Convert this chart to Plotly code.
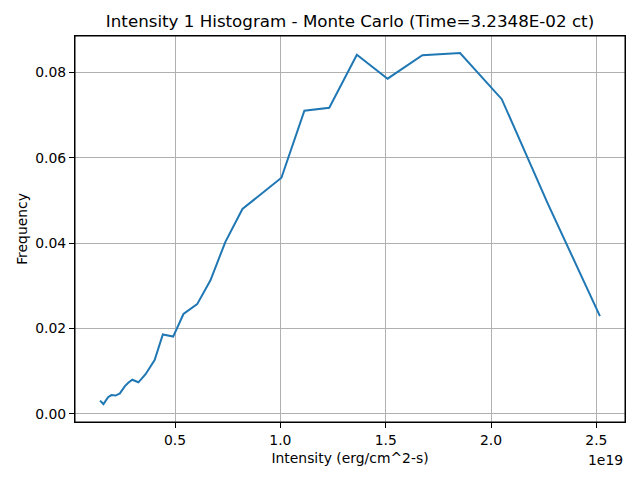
import plotly.graph_objects as go

# intensity bin centres (erg/cm^2-s) and frequencies
intensity = [1.44e18, 1.60e18, 1.82e18, 1.98e18, 2.18e18, 2.38e18, 2.62e18,
             2.78e18, 2.97e18, 3.26e18, 3.60e18, 4.03e18, 4.42e18, 4.91e18,
             5.40e18, 6.05e18, 6.68e18, 7.39e18, 8.20e18, 1.005e19, 1.114e19,
             1.232e19, 1.363e19, 1.509e19, 1.674e19, 1.853e19, 2.051e19,
             2.27e19, 2.517e19]
frequency = [0.0031, 0.0023, 0.0039, 0.0044, 0.0043, 0.0048, 0.0065,
             0.0073, 0.0080, 0.0074, 0.0093, 0.0126, 0.0186, 0.0181,
             0.0234, 0.0257, 0.0313, 0.0403, 0.0480, 0.0553, 0.0710,
             0.0717, 0.0841, 0.0785, 0.0840, 0.0845, 0.0737,
             0.0492, 0.0229]

x_ticks = [0.5e19, 1.0e19, 1.5e19, 2.0e19, 2.5e19]
x_tick_labels = ["0.5", "1.0", "1.5", "2.0", "2.5"]
y_ticks = [0.0, 0.02, 0.04, 0.06, 0.08]

font = "DejaVu Sans"

fig = go.Figure()
fig.add_trace(go.Scatter(x=intensity, y=frequency, mode="lines",
                         line=dict(color="#1f77b4", width=2)))

fig.update_layout(
    width=640, height=480,
    margin=dict(l=75, r=15, t=36, b=58),
    paper_bgcolor="white", plot_bgcolor="white",
    showlegend=False,
    font=dict(family=font, size=13.9, color="black"),
    title=dict(text="Intensity 1 Histogram - Monte Carlo (Time=3.2348E-02 ct)",
               xref="paper", x=0.5, xanchor="center",
               yref="container", y=0.955, yanchor="middle",
               font=dict(family=font, size=16.7, color="black")),
    annotations=[dict(text="1e19", xref="paper", yref="paper", x=1.0, y=-0.072,
                      xanchor="right", yanchor="top", showarrow=False,
                      font=dict(family=font, size=13.9, color="black"))],
    # frame round the plot area, like the matplotlib spines
    shapes=[dict(type="rect", xref="paper", yref="paper", x0=0, x1=1, y0=0, y1=1,
                 line=dict(color="black", width=1), layer="above")],
)

fig.update_xaxes(
    range=[0.025e19, 2.636e19],
    tickvals=x_ticks, ticktext=x_tick_labels,
    showgrid=True, gridcolor="#b0b0b0", gridwidth=1,
    showline=True, linecolor="black", linewidth=1, mirror=True,
    ticks="outside", ticklen=5, tickcolor="black", tickwidth=1,
    zeroline=False,
    title=dict(text="Intensity (erg/cm^2-s)", standoff=6,
               font=dict(family=font, size=13.9)),
)
fig.update_yaxes(
    range=[-0.0019, 0.0885],
    tickvals=y_ticks, tickformat=".2f",
    showgrid=True, gridcolor="#b0b0b0", gridwidth=1,
    showline=True, linecolor="black", linewidth=1, mirror=True,
    ticks="outside", ticklen=5, tickcolor="black", tickwidth=1,
    zeroline=False,
    title=dict(text="Frequency", standoff=4, font=dict(family=font, size=13.9)),
)

# the page puts a default 8px margin round the body, take it off
fig.write_html("out.html", config={"displayModeBar": False},
               post_script="document.body.style.margin='0';")
